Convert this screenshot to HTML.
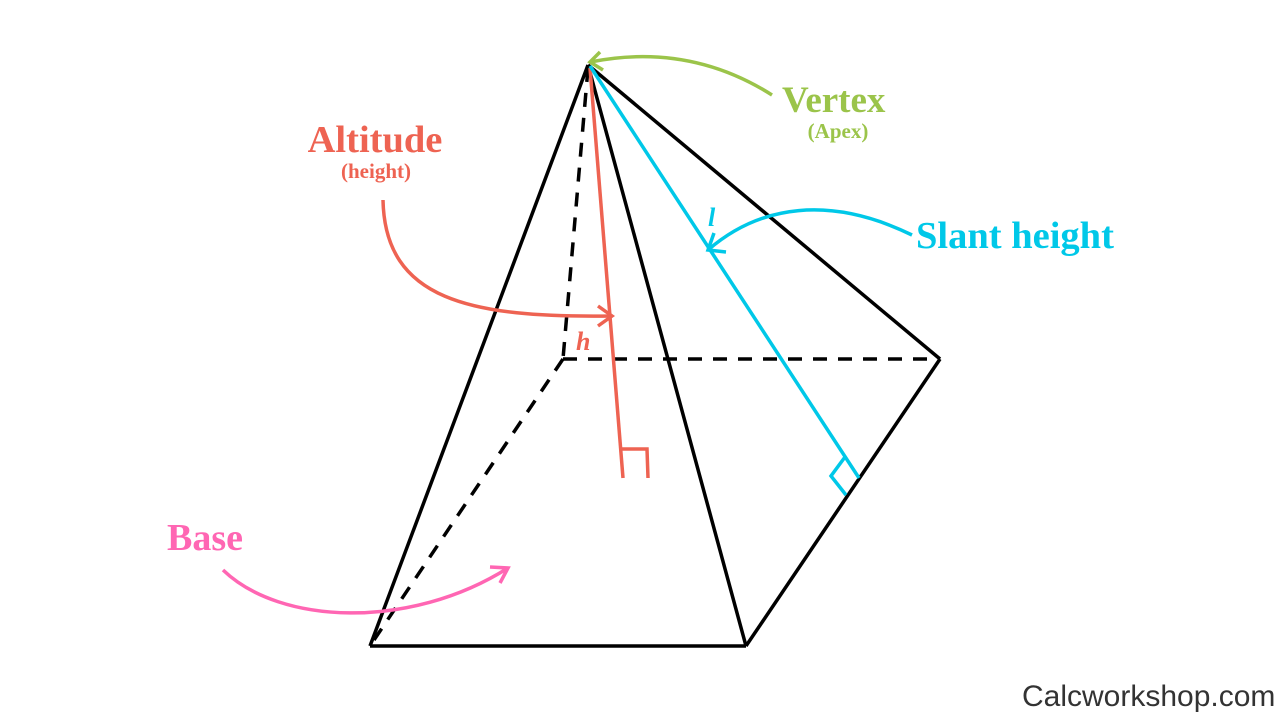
<!DOCTYPE html>
<html><head><style>body{margin:0;background:#fff}svg{display:block}</style></head><body>
<svg width="1280" height="720" viewBox="0 0 1280 720" xmlns="http://www.w3.org/2000/svg">
<g stroke="#000" stroke-width="3.5" fill="none" stroke-linecap="butt">
<line x1="588" y1="65" x2="370" y2="646"/>
<line x1="588" y1="65" x2="746" y2="646"/>
<line x1="588" y1="65" x2="940" y2="359"/>
<line x1="370" y1="646" x2="746" y2="646"/>
<line x1="746" y1="646" x2="940" y2="359"/>
<g stroke-dasharray="14,11">
<line x1="588" y1="68" x2="563" y2="359"/>
<line x1="563" y1="359" x2="940" y2="359"/>
<line x1="563" y1="359" x2="374" y2="640"/>
</g>
</g>
<g stroke="#ee6352" stroke-width="3.5" fill="none">
<line x1="590" y1="68" x2="623" y2="478"/>
<polyline points="622,449 647,449 648,478"/>
<path d="M383,200 C385,300 470,318 612,316"/>
<polyline points="598,306 612,316 598,326"/>
</g>
<g stroke="#00c8e8" stroke-width="3.5" fill="none">
<line x1="590" y1="66" x2="859" y2="478"/>
<polyline points="845,457 831,476 846,495"/>
<path d="M912,235 C830,195 760,205 708,250"/>
<polyline points="714,233 708,250 726,252"/>
</g>
<g stroke="#9bc44a" stroke-width="3.5" fill="none">
<path d="M772,95 C720,62 660,48 590,62"/>
<polyline points="600,52 590,62 603,70"/>
</g>
<g stroke="#ff66b3" stroke-width="3.5" fill="none">
<path d="M223,570 C280,625 410,630 508,568"/>
<polyline points="490,567 508,568 500,583"/>
</g>
<g font-family="Liberation Serif, serif" font-weight="bold">
<text x="782" y="112" font-size="37" fill="#9bc44a">Vertex</text>
<text x="838" y="138" font-size="21" fill="#9bc44a" text-anchor="middle">(Apex)</text>
<text x="375" y="152" font-size="38.5" fill="#ee6352" text-anchor="middle">Altitude</text>
<text x="376" y="178" font-size="21" fill="#ee6352" text-anchor="middle">(height)</text>
<text x="916" y="248" font-size="38.5" fill="#00c8e8">Slant height</text>
<text x="167" y="550" font-size="38" fill="#ff66b3">Base</text>
<text x="576" y="350" font-size="26" fill="#ee6352" font-style="italic">h</text>
<text x="708" y="226" font-size="26" fill="#00c8e8" font-style="italic">l</text>
</g>
<text x="1022" y="706" font-family="Liberation Sans, sans-serif" font-size="30" fill="#333">Calcworkshop.com</text>
</svg>
</body></html>
